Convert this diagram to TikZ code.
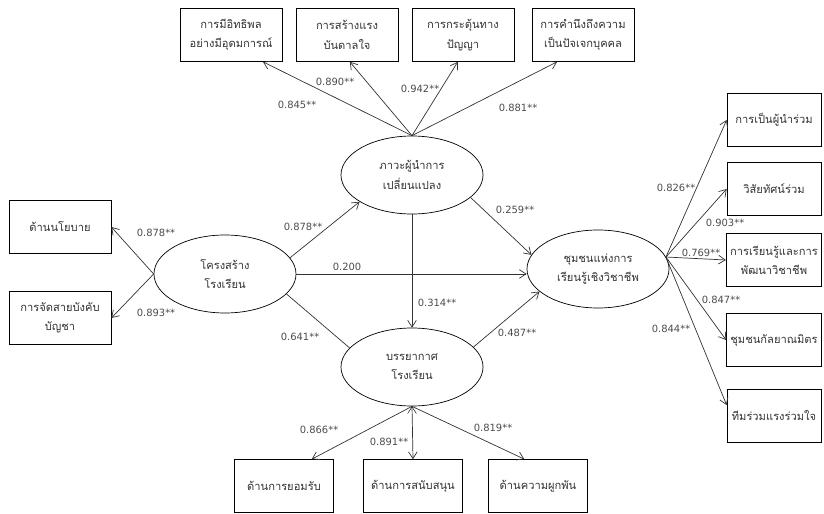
\documentclass[tikz,border=0pt]{standalone}
\usepackage{fontspec}
\newfontfamily\thaifont[Script=Thai]{Loma}
\newfontfamily\numfont{DejaVu Sans}
\usepackage{tikz}
\usetikzlibrary{shapes.geometric, arrows.meta}
\tikzset{
->, % every connector is directed
>={Straight Barb[length=2mm,width=2.6mm]}, % open arrow heads
every edge/.style={draw, line width=0.6pt, black!80},
latent/.style={ellipse, draw, line width=0.6pt, minimum width=4.26cm, minimum height=2.34cm, inner sep=0pt, align=center, text=black!80, font=\thaifont\fontsize{9.5}{16.5}\selectfont}, % latent variables
observed/.style={rectangle, draw, line width=0.6pt, minimum width=3.06cm, minimum height=1.59cm, align=center, text=black!80, font=\thaifont\fontsize{9.5}{16.5}\selectfont}, % indicators
coef/.style={inner sep=1pt, text=black!70, font=\numfont\fontsize{8.5}{10}\selectfont}, % path coefficients
}

\begin{document}
\begin{tikzpicture}[x=0.03cm, y=-0.03cm]
        \useasboundingbox (0,0) rectangle (824,514);

        \node[latent] (kr) at (225,274) {โครงสร้าง\\โรงเรียน};
        \node[latent] (lead) at (412,175) {ภาวะผู้นำการ\\เปลี่ยนแปลง};
        \node[latent] (ba) at (412,367) {บรรยากาศ\\โรงเรียน};
        \node[latent] (cm) at (598,269) {ชุมชนแห่งการ\\เรียนรู้เชิงวิชาชีพ};

        \node[observed] (t1) at (231,35) {การมีอิทธิพล\\อย่างมีอุดมการณ์};
        \node[observed] (t2) at (347,35) {การสร้างแรง\\บันดาลใจ};
        \node[observed] (t3) at (463,35) {การกระตุ้นทาง\\ปัญญา};
        \node[observed] (t4) at (583,35) {การคำนึงถึงความ\\เป็นปัจเจกบุคคล};
        \node[observed] (l1) at (60,227) {ด้านนโยบาย};
        \node[observed] (l2) at (60,318) {การจัดสายบังคับ\\บัญชา};
        \node[observed, minimum width=2.82cm] (r1) at (774,120) {การเป็นผู้นำร่วม};
        \node[observed, minimum width=2.82cm] (r2) at (774,189) {วิสัยทัศน์ร่วม};
        \node[observed, minimum width=2.82cm] (r3) at (774,260) {การเรียนรู้และการ\\พัฒนาวิชาชีพ};
        \node[observed, minimum width=2.82cm] (r4) at (774,340) {ชุมชนกัลยาณมิตร};
        \node[observed, minimum width=2.82cm] (r5) at (774,416) {ทีมร่วมแรงร่วมใจ};
        \node[observed, minimum width=2.97cm] (d1) at (284,486) {ด้านการยอมรับ};
        \node[observed, minimum width=2.97cm] (d2) at (413,486) {ด้านการสนับสนุน};
        \node[observed, minimum width=2.97cm] (d3) at (538,486) {ด้านความผูกพัน};

        \draw (lead.north) edge (t1.-40)
                           edge (t2.-84)
                           edge (t3.-101)
                           edge (t4.-134)
              (kr.west) edge (l1.east)
                        edge (l2.east)
              (kr.14) edge (lead.207)
              (kr.east) edge (kr.east -| cm.west)
              (kr.-18) edge[-] (ba.163)
              (lead.south) edge (lead.south |- ba.north)
              (lead.-21) edge (cm.168)
              (ba.18) edge (cm.201)
              (cm.10) edge (r1.west)
                      edge (r2.west)
                      edge (r3.west)
                      edge (r4.west)
                      edge (r5.167)
              (ba.south) edge (d1.44)
                         edge (d2.north)
                         edge (d3.117);

        \node[coef] (c1) at (297,105) {0.845**};
        \node[coef] (c2) at (335,82) {0.890**};
        \node[coef] (c3) at (420,89) {0.942**};
        \node[coef] (c4) at (518,108) {0.881**};
        \node[coef] (c5) at (156,233) {0.878**};
        \node[coef] (c6) at (156,313) {0.893**};
        \node[coef] (c7) at (303,227) {0.878**};
        \node[coef] (c8) at (347,267) {0.200};
        \node[coef] (c9) at (300,337) {0.641**};
        \node[coef] (c10) at (437,303) {0.314**};
        \node[coef] (c11) at (515,210) {0.259**};
        \node[coef] (c12) at (517,333) {0.487**};
        \node[coef] (c13) at (676,188) {0.826**};
        \node[coef] (c14) at (725,223) {0.903**};
        \node[coef] (c15) at (701,253) {0.769**};
        \node[coef] (c16) at (721,300) {0.847**};
        \node[coef] (c17) at (671,329) {0.844**};
        \node[coef] (c18) at (319,430) {0.866**};
        \node[coef] (c19) at (389,442) {0.891**};
        \node[coef] (c20) at (493,428) {0.819**};
    \end{tikzpicture}
\end{document}
